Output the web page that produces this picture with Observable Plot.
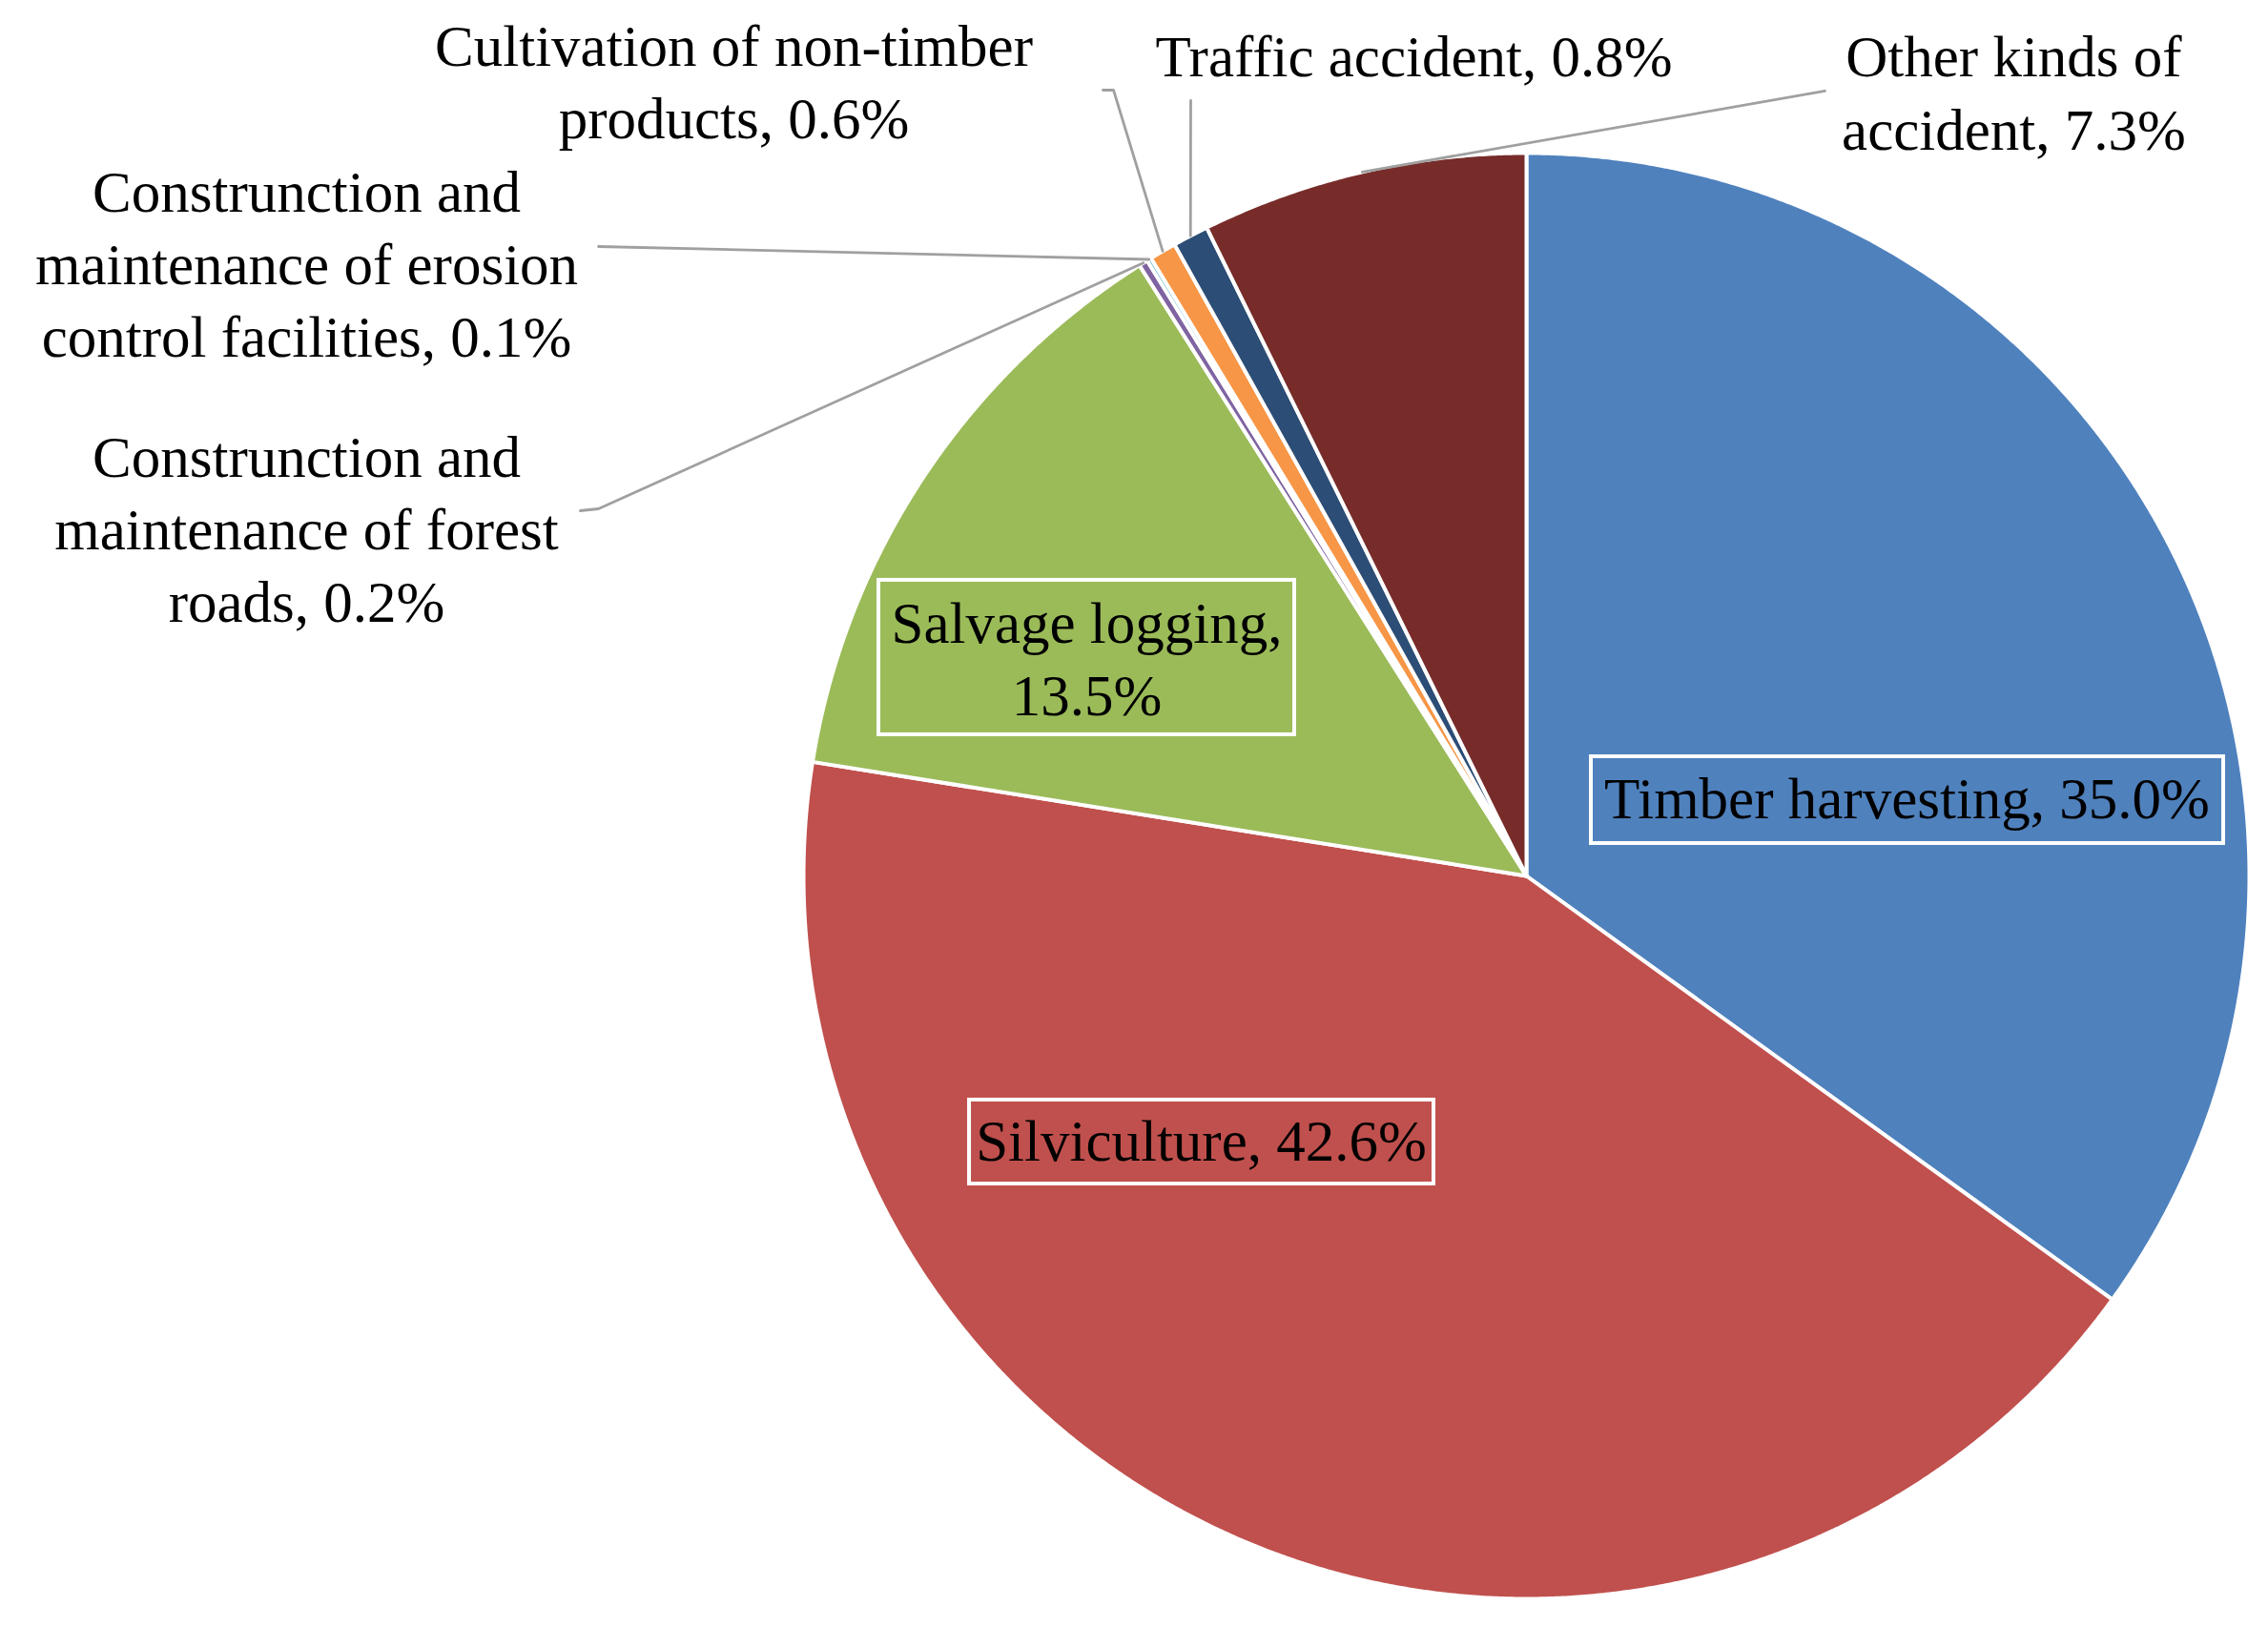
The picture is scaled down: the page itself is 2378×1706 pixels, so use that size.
<!DOCTYPE html>
<html><head><meta charset="utf-8">
<script src="https://cdn.jsdelivr.net/npm/d3@7"></script>
<script src="https://cdn.jsdelivr.net/npm/@observablehq/plot@0.6"></script>
<style>html,body{margin:0;padding:0;background:#fff;} #chart{width:2378px;height:1706px;}</style>
</head><body><div id="chart"></div>
<script>
// ---- data ----
const categories = [
  "Timber harvesting",
  "Silviculture",
  "Salvage logging",
  "Construnction and maintenance of forest roads",
  "Construnction and maintenance of erosion control facilities",
  "Cultivation of non-timber products",
  "Traffic accident",
  "Other kinds of accident"
];
const shares = [35.0, 42.6, 13.5, 0.2, 0.1, 0.6, 0.8, 7.3];
const labelNames = [
  "Timber harvesting,",
  "Silviculture,",
  "Salvage logging,\n",
  "Construnction and\nmaintenance of forest\nroads,",
  "Construnction and\nmaintenance of erosion\ncontrol facilities,",
  "Cultivation of non-timber\nproducts,",
  "Traffic accident,",
  "Other kinds of\naccident,"
];
const colors = ["#4F81BD", "#C0504D", "#9BBB59", "#8064A2", "#4BACC6", "#F79646", "#2C4D75", "#772C2A"];

// ---- layout (pie units: radius = 1, y up) ----
const W = 2378, H = 1706, CX = 1600, CY = 918, R = 758;
const labelPos = [
  {x: 0.5264, y: 0.1042, box: [0.0897, 0.9644, 0.0449, 0.1649]},
  {x: -0.4499, y: -0.3694, box: [-0.7704, -0.1280, -0.4261, -0.3100]},
  {x: -0.6082, y: 0.2968, box: [-0.8958, -0.3206, 0.1953, 0.4090]},
  {x: -1.6873, y: 0.4763, leader: [[-1.3087, 0.5053], [-1.2836, 0.5079]]},
  {x: -1.6873, y: 0.8430, leader: [[-1.2836, 0.8707]]},
  {x: -1.0963, y: 1.0950, leader: [[-0.5858, 1.0871], [-0.5712, 1.0871]]},
  {x: -0.1557, y: 1.1306, leader: [[-0.4644, 1.0726]]},
  {x: 0.6741, y: 1.0798, leader: [[0.4129, 1.0858]]}
];

// ---- geometry from values ----
const total = d3.sum(shares);
const polys = [], labels = [], boxes = [], leaders = [];
let cum = 0;
shares.forEach((v, i) => {
  const a0 = cum / total * 2 * Math.PI;
  cum += v;
  const a1 = cum / total * 2 * Math.PI;
  const key = categories[i];
  polys.push({key, x: 0, y: 0});
  const step = Math.PI / 720;
  for (let a = a0; a < a1; a += step) polys.push({key, x: Math.sin(a), y: Math.cos(a)});
  polys.push({key, x: Math.sin(a1), y: Math.cos(a1)});
  const name = labelNames[i];
  const sep = name.endsWith("\n") ? "" : " ";
  const lp = labelPos[i];
  labels.push({x: lp.x, y: lp.y, text: name + sep + v.toFixed(1) + "%"});
  if (lp.box) boxes.push({x1: lp.box[0], x2: lp.box[1], y1: lp.box[2], y2: lp.box[3]});
  if (lp.leader) {
    lp.leader.forEach(p => leaders.push({key, x: p[0], y: p[1]}));
    const am = (a0 + a1) / 2;
    leaders.push({key, x: Math.sin(am), y: Math.cos(am)});
  }
});

const chart = Plot.plot({
  width: W, height: H, margin: 0,
  x: {domain: [-CX / R, (W - CX) / R], axis: null},
  y: {domain: [-(H - CY) / R, CY / R], axis: null},
  color: {domain: categories, range: colors},
  style: {background: "white"},
  marks: [
    Plot.line(polys, {x: "x", y: "y", z: "key", fill: "key", stroke: "white", strokeWidth: 4, curve: "linear-closed", strokeLinejoin: "round"}),
    Plot.line(leaders, {x: "x", y: "y", z: "key", stroke: "#A0A0A0", strokeWidth: 2.8, curve: "linear"}),
    Plot.rect(boxes, {x1: "x1", x2: "x2", y1: "y1", y2: "y2", fill: "none", stroke: "white", strokeWidth: 4}),
    Plot.text(labels, {x: "x", y: "y", dy: -6, text: "text", fontSize: 61, fontFamily: "Liberation Serif", lineHeight: 1.25, fill: "black", textAnchor: "middle"})
  ]
});
document.getElementById("chart").appendChild(chart);
</script>
</body></html>
